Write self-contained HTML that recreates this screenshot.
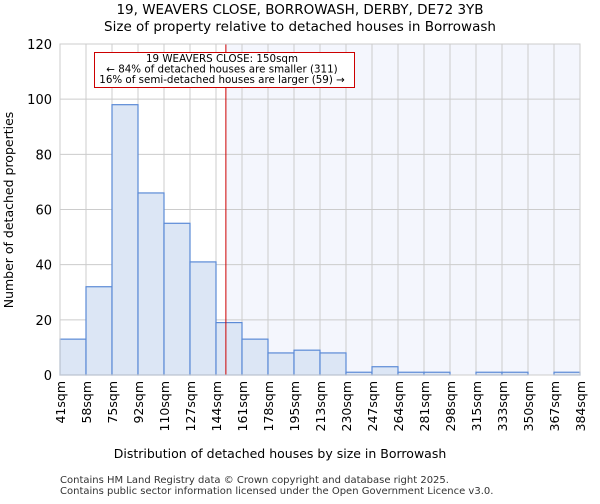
<!DOCTYPE html>
<html><head><meta charset="utf-8"><style>
body{margin:0;background:#fff;font-family:"DejaVu Sans","Liberation Sans",sans-serif;}
</style></head><body>
<svg width="600" height="500" xmlns="http://www.w3.org/2000/svg" font-family="DejaVu Sans, Liberation Sans, sans-serif">
<text x="300" y="14" text-anchor="middle" font-size="13.5">19, WEAVERS CLOSE, BORROWASH, DERBY, DE72 3YB</text>
<text x="300" y="31" text-anchor="middle" font-size="13.5">Size of property relative to detached houses in Borrowash</text>
<g id="plot"></g>
<text x="280" y="458" text-anchor="middle" font-size="12.5">Distribution of detached houses by size in Borrowash</text>
<text transform="translate(13,210) rotate(-90)" text-anchor="middle" font-size="12.5">Number of detached properties</text>
<text x="60" y="483" font-size="10" fill="#333">Contains HM Land Registry data © Crown copyright and database right 2025.</text>
<text x="60" y="494" font-size="10" fill="#333">Contains public sector information licensed under the Open Government Licence v3.0.</text>
</svg>
<script>
const categories=["41sqm","58sqm","75sqm","92sqm","110sqm","127sqm","144sqm","161sqm","178sqm","195sqm","213sqm","230sqm","247sqm","264sqm","281sqm","298sqm","315sqm","333sqm","350sqm","367sqm","384sqm"];
const counts=[13,32,98,66,55,41,19,13,8,9,8,1,3,1,1,0,1,1,0,1];
const yTicks=[0,20,40,60,80,100,120];
const markerBin=[6.38];
const NS="http://www.w3.org/2000/svg";
const g=document.getElementById('plot');
const x0=60,x1=580,y0=375,yTop=44,yMax=120;
const bw=(x1-x0)/counts.length;
const X=i=>x0+i*bw, Y=v=>y0-v/yMax*(y0-yTop);
function el(t,a){const e=document.createElementNS(NS,t);for(const k in a)e.setAttribute(k,a[k]);g.appendChild(e);return e;}
const mx=X(markerBin[0]);
let e=el('rect',{x:mx,y:yTop,width:x1-mx,height:y0-yTop,fill:'#f4f6fd'});


for(let i=0;i<=counts.length;i++){e=el('line',{x1:X(i),x2:X(i),y1:yTop,y2:y0,stroke:'#ccc','stroke-width':1});

}
yTicks.forEach(v=>{e=el('line',{x1:x0,x2:x1,y1:Y(v),y2:Y(v),stroke:'#ccc','stroke-width':1});


e=el('text',{x:x0-8,y:Y(v)+5,'text-anchor':'end','font-size':13});e.textContent=v;

});
counts.forEach((c,i)=>{if(c<=0)return;e=el('rect',{x:X(i),y:Y(c),width:bw,height:y0-Y(c),fill:'#dce6f5',stroke:'#5b8ad6','stroke-width':1.2});

});
categories.forEach((c,i)=>{e=el('text',{transform:`translate(${X(i)+5},381) rotate(-90)`,'text-anchor':'end','font-size':12.5});e.textContent=c;

});
e=el('line',{x1:mx,x2:mx,y1:yTop,y2:y0,stroke:'#c00','stroke-width':1});


e=el('rect',{x:x0,y:yTop,width:x1-x0,height:y0-yTop,fill:'none',stroke:'#ccc'});


e=el('rect',{x:94.5,y:52.5,width:260,height:35,fill:'#fff',stroke:'#c00'});


["19 WEAVERS CLOSE: 150sqm","← 84% of detached houses are smaller (311)","16% of semi-detached houses are larger (59) →"].forEach((t,i)=>{
e=el('text',{x:222,y:62+i*10.5,'text-anchor':'middle','font-size':10.3});e.textContent=t;

});
</script>
</body></html>
